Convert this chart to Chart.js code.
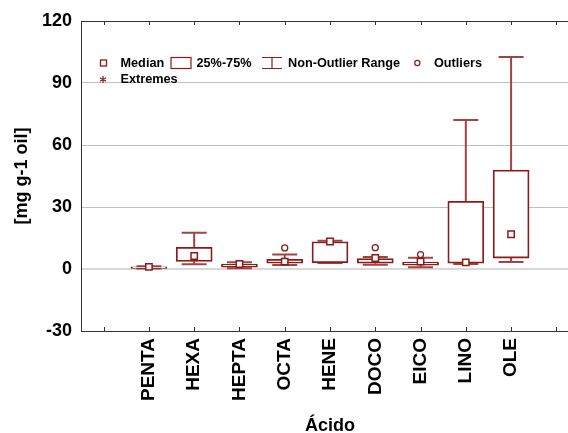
<!DOCTYPE html>
<html>
<head>
<meta charset="utf-8">
<script src="https://cdn.jsdelivr.net/npm/chart.js@4.4.1/dist/chart.umd.min.js"></script>
<style>
  html, body { margin: 0; padding: 0; overflow: hidden; background: #fff; }
  #wrap { width: 568px; height: 433px; overflow: hidden; }
</style>
</head>
<body>
<div id="wrap"><canvas id="chart" width="600" height="437"></canvas></div>
<script>
// ── data ──
const categories  = ['PENTA', 'HEXA', 'HEPTA', 'OCTA', 'HENE', 'DOCO', 'EICO', 'LINO', 'OLE'];
const minValues    = [0.2, 2.3, 0.4, 1.9, 2.9, 2.0, 0.9, 2.4, 3.4];
const q1Values     = [0.3, 3.7, 0.9, 2.8, 3.0, 2.8, 1.8, 2.8, 5.3];
const medianValues = [1.0, 6.3, 2.4, 3.6, 13.3, 5.3, 3.6, 3.2, 16.8];
const q3Values     = [1.0, 10.5, 2.4, 4.7, 13.2, 5.1, 3.4, 32.8, 47.9];
const maxValues    = [1.3, 17.6, 3.3, 7.0, 13.7, 5.8, 5.5, 72.1, 102.6];
const outlierValues = [null, null, null, 10.2, null, 10.3, 7.0, null, null];
const yTicks = [-30, 0, 30, 60, 90, 120];

const RED = '#8b1a1a';
const WHISKER = '#a34444';
const FONT = "'Liberation Sans', Arial, sans-serif";

// empty slot either side of the categories, like the original axis
const axisLabels = ['', ...categories, ''];
const pad = arr => [null, ...arr, null];

const boxPlotExtras = {
  id: 'boxPlotExtras',
  beforeDatasetsDraw(chart) {
    const { ctx, scales: { x, y } } = chart;
    ctx.save();
    ctx.strokeStyle = WHISKER;
    ctx.lineWidth = 2;
    categories.forEach((c, i) => {
      const px = x.getPixelForValue(i + 1);
      const lo = y.getPixelForValue(minValues[i]);
      const hi = y.getPixelForValue(maxValues[i]);
      ctx.beginPath();
      ctx.moveTo(px, lo); ctx.lineTo(px, y.getPixelForValue(q1Values[i]));
      ctx.moveTo(px, y.getPixelForValue(q3Values[i])); ctx.lineTo(px, hi);
      ctx.moveTo(px - 12.5, lo); ctx.lineTo(px + 12.5, lo);
      ctx.moveTo(px - 12.5, hi); ctx.lineTo(px + 12.5, hi);
      ctx.stroke();
    });
    ctx.restore();
  },
  afterDraw(chart) {
    const { ctx, chartArea: a, scales: { x } } = chart;
    ctx.save();
    // frame
    ctx.strokeStyle = '#333';
    ctx.lineWidth = 1;
    ctx.strokeRect(Math.round(a.left) + 0.5, Math.round(a.top) + 0.5,
      Math.round(a.right - a.left), Math.round(a.bottom - a.top));
    // inward ticks, top and bottom
    ctx.beginPath();
    axisLabels.forEach((l, i) => {
      const px = Math.round(x.getPixelForValue(i)) + 0.5;
      ctx.moveTo(px, a.top); ctx.lineTo(px, a.top + 4);
      ctx.moveTo(px, a.bottom); ctx.lineTo(px, a.bottom - 4);
    });
    ctx.stroke();

    // legend inside the plot
    const lx = a.left, ly = a.top;
    const row1 = ly + 42, row2 = ly + 58.5;
    ctx.font = 'bold 12.7px ' + FONT;
    ctx.fillStyle = '#000';
    ctx.textBaseline = 'middle';
    ctx.textAlign = 'left';
    ctx.fillText('Median', lx + 39.5, row1);
    ctx.fillText('25%-75%', lx + 115.5, row1);
    ctx.fillText('Non-Outlier Range', lx + 207, row1);
    ctx.fillText('Outliers', lx + 353, row1);
    ctx.fillText('Extremes', lx + 39.5, row2);

    ctx.strokeStyle = RED;
    ctx.fillStyle = '#fff';
    ctx.lineWidth = 1.3;
    // median square
    ctx.strokeRect(lx + 19.5, row1 - 3, 6, 6);
    // box
    ctx.lineWidth = 1.2;
    ctx.strokeRect(lx + 90, row1 - 5.5, 20, 11);
    // range
    ctx.beginPath();
    ctx.moveTo(lx + 181, row1 - 5.5); ctx.lineTo(lx + 201, row1 - 5.5);
    ctx.moveTo(lx + 191, row1 - 5.5); ctx.lineTo(lx + 191, row1 + 5.5);
    ctx.moveTo(lx + 181, row1 + 5.5); ctx.lineTo(lx + 201, row1 + 5.5);
    ctx.stroke();
    // outlier circle
    ctx.beginPath();
    ctx.arc(lx + 336.3, row1, 2.6, 0, Math.PI * 2);
    ctx.stroke();
    // extremes star
    const sx = lx + 22, sy = row2;
    ctx.beginPath();
    for (let k = 0; k < 3; k++) {
      const ang = Math.PI / 2 + k * Math.PI / 3;
      ctx.moveTo(sx + 3.5 * Math.cos(ang), sy + 3.5 * Math.sin(ang));
      ctx.lineTo(sx - 3.5 * Math.cos(ang), sy - 3.5 * Math.sin(ang));
    }
    ctx.stroke();
    ctx.restore();
  }
};

new Chart(document.getElementById('chart'), {
  type: 'bar',
  data: {
    labels: axisLabels,
    datasets: [
      {
        type: 'line',
        label: 'Median',
        data: pad(medianValues),
        showLine: false,
        pointStyle: 'rect',
        pointRadius: 4.5,
        pointBackgroundColor: '#fff',
        pointBorderColor: RED,
        pointBorderWidth: 1.5,
        order: 0,
      },
      {
        type: 'line',
        label: 'Outliers',
        data: pad(outlierValues),
        showLine: false,
        pointStyle: 'circle',
        pointRadius: 3,
        pointBackgroundColor: '#fff',
        pointBorderColor: RED,
        pointBorderWidth: 1.3,
        order: 1,
      },
      {
        label: '25%-75%',
        data: pad(q1Values.map((q, i) => [q, q3Values[i]])),
        backgroundColor: '#fff',
        borderColor: RED,
        borderWidth: 1.8,
        borderSkipped: false,
        barThickness: 36,
        order: 2,
      },
    ],
  },
  options: {
    responsive: false,
    animation: false,
    layout: { padding: { top: 21, right: 21, left: 0, bottom: 0 } },
    plugins: { legend: { display: false }, tooltip: { enabled: false } },
    scales: {
      x: {
        type: 'category',
        offset: true,
        grid: { display: false, drawTicks: false },
        border: { display: false },
        ticks: {
          autoSkip: false, minRotation: 90, maxRotation: 90, padding: 7,
          color: '#000', font: { family: FONT, size: 19, weight: 'bold' },
        },
        title: {
          display: true, text: 'Ácido', color: '#000',
          font: { family: FONT, size: 18, weight: 'bold' },
          padding: { top: 0, bottom: 0 },
        },
        afterFit(scale) { scale.height = 106; },
      },
      y: {
        min: -30,
        max: 120,
        afterBuildTicks(scale) { scale.ticks = yTicks.map(v => ({ value: v })); },
        grid: {
          drawTicks: false,
          color: c => c.tick && c.tick.value === 0 ? '#d8d8d8' : '#c0c0c0',
          lineWidth: c => c.tick && c.tick.value === 0 ? 2 : 1,
        },
        border: { display: false },
        ticks: { padding: 9, color: '#000', font: { family: FONT, size: 18, weight: 'bold' } },
        title: {
          display: true, text: '[mg g-1 oil]', color: '#000',
          font: { family: FONT, size: 18, weight: 'bold' },
          padding: { top: 11, bottom: 0 },
        },
        afterFit(scale) { scale.width = 81; },
      },
    },
  },
  plugins: [boxPlotExtras],
});
</script>
</body>
</html>
